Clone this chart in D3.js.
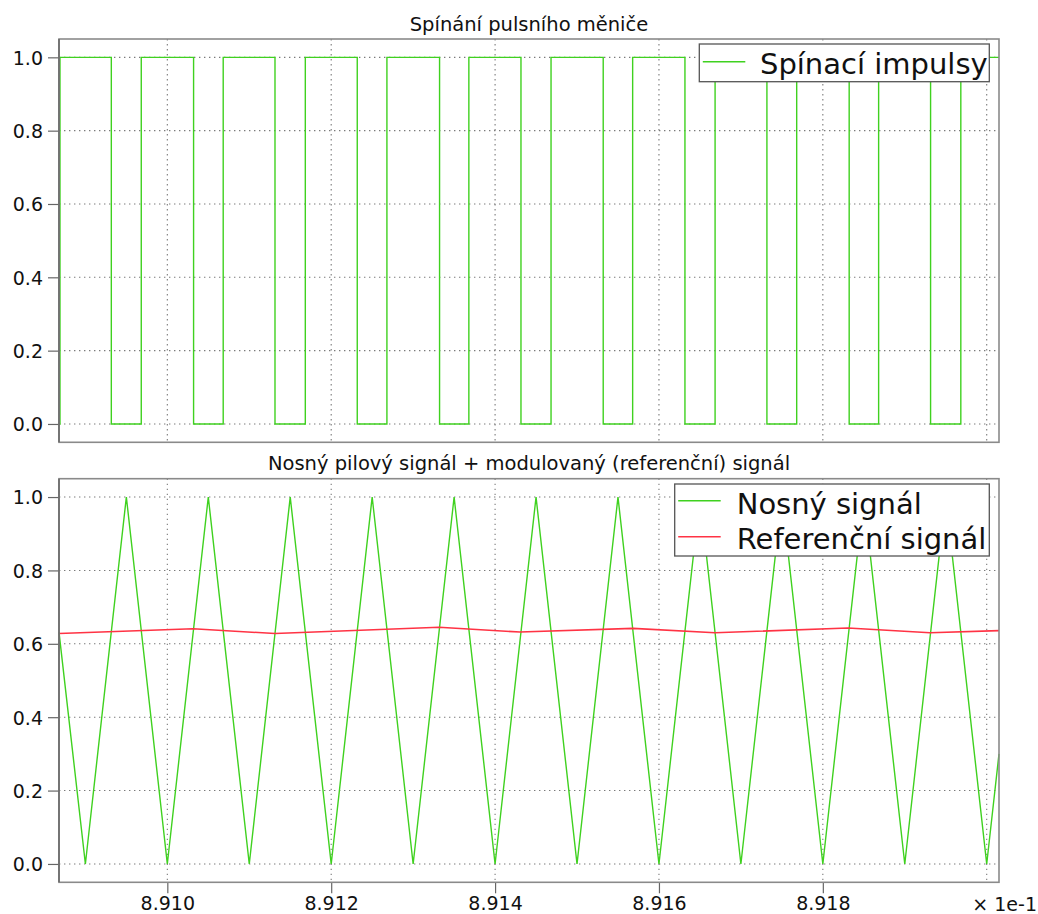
<!DOCTYPE html>
<html>
<head>
<meta charset="utf-8">
<script src="https://cdn.jsdelivr.net/npm/d3@7"></script>
<style>
  html, body { margin: 0; padding: 0; background: #fff; }
  svg { display: block; font-family: "DejaVu Sans", Verdana, sans-serif; }
</style>
</head>
<body>
<svg id="chart" width="1038" height="914"></svg>
<script>
// ---- data (time in seconds; axis shows value x10, i.e. "× 1e-1") ----
const topTitle = "Spínání pulsního měniče";
const bottomTitle = "Nosný pilový signál + modulovaný (referenční) signál";
const pulseLabel = "Spínací impulsy";
const carrierLabel = "Nosný signál";
const refLabel = "Referenční signál";
const xMultiplier = "× 1e-1";

const xGridTicks = [0.8910, 0.8912, 0.8914, 0.8916, 0.8918, 0.8920];
const xLabelTicks = [0.8910, 0.8912, 0.8914, 0.8916, 0.8918];
const yTicks = [0.0, 0.2, 0.4, 0.6, 0.8, 1.0];

const pulseT = [0.8908678, 0.8908690,
  0.89093165, 0.8909682, 0.89103205, 0.8910682, 0.8911314, 0.8911684,
  0.8912318, 0.8912680, 0.89133225, 0.8913680, 0.8914316, 0.8914683,
  0.89153197, 0.8915679, 0.89163172, 0.8916685, 0.89173176, 0.8917681,
  0.89183215, 0.8918681, 0.8919315, 0.8919684, 0.8920150];
const pulseV = [0, 1,
  0, 1, 0, 1, 0, 1,
  0, 1, 0, 1, 0, 1,
  0, 1, 0, 1, 0, 1,
  0, 1, 0, 1, 1];

const carrierT = [0.8908678,
  0.8909, 0.89095, 0.8910, 0.89105, 0.8911, 0.89115, 0.8912, 0.89125,
  0.8913, 0.89135, 0.8914, 0.89145, 0.8915, 0.89155, 0.8916, 0.89165,
  0.8917, 0.89175, 0.8918, 0.89185, 0.8919, 0.89195, 0.8920, 0.8920150];
const carrierV = [0.632,
  0, 1, 0, 1, 0, 1, 0, 1,
  0, 1, 0, 1, 0, 1, 0, 1,
  0, 1, 0, 1, 0, 1, 0, 0.30];

const refT = [0.8908678, 0.8910314, 0.8911314, 0.8913316, 0.8914304,
  0.8915683, 0.8916684, 0.8918307, 0.8919308, 0.8920150];
const refV = [0.628, 0.641, 0.628, 0.645, 0.632,
  0.642, 0.630, 0.643, 0.630, 0.636];

// ---- layout ----
const GREEN = "#3fd11f", RED = "#ff3344", FRAME = "#8a8a8a", GRID = "#7a7a7a";
const plotL = 59, plotR = 999;
const panels = [
  { top: 39, bottom: 442.3, title: topTitle, titleY: 30.5 },
  { top: 478.7, bottom: 882.3, title: bottomTitle, titleY: 469.5 }
];

const svg = d3.select("#chart");
const x = d3.scaleLinear().domain(d3.extent(carrierT)).range([plotL, plotR]);

function drawPanel(p, showXLabels) {
  const y = d3.scaleLinear().domain([-0.05, 1.05]).range([p.bottom, p.top]);
  const g = svg.append("g");
  // grid
  g.selectAll(".hg").data(yTicks).join("line")
    .attr("x1", plotL).attr("x2", plotR)
    .attr("y1", d => y(d)).attr("y2", d => y(d))
    .attr("stroke", GRID).attr("stroke-width", 1.1).attr("stroke-dasharray", "1.4,3.6");
  g.selectAll(".vg").data(xGridTicks).join("line")
    .attr("y1", p.top).attr("y2", p.bottom)
    .attr("x1", d => x(d)).attr("x2", d => x(d))
    .attr("stroke", GRID).attr("stroke-width", 1.1).attr("stroke-dasharray", "1.4,3.6");
  // y axis
  const ya = g.append("g").attr("transform", `translate(${plotL},0)`)
    .call(d3.axisLeft(y).tickValues(yTicks).tickFormat(d3.format(".1f")).tickSize(11).tickPadding(5));
  ya.select(".domain").remove();
  ya.selectAll(".tick line").attr("stroke", "#666").attr("stroke-width", 1.2);
  ya.selectAll(".tick text").attr("font-size", 19).attr("fill", "#111")
    .attr("font-family", "DejaVu Sans, Verdana, sans-serif").attr("dy", "0.36em");
  if (showXLabels) {
    const xa = g.append("g").attr("transform", `translate(0,${p.bottom})`)
      .call(d3.axisBottom(x).tickValues(xLabelTicks).tickFormat(d => (d * 10).toFixed(3)).tickSize(11).tickPadding(3));
    xa.select(".domain").remove();
    xa.selectAll(".tick line").attr("stroke", "#666").attr("stroke-width", 1.2);
    xa.selectAll(".tick text").attr("font-size", 19).attr("fill", "#111")
      .attr("font-family", "DejaVu Sans, Verdana, sans-serif");
  }
  // title
  svg.append("text").attr("x", (plotL + plotR) / 2).attr("y", p.titleY)
    .attr("text-anchor", "middle").attr("font-size", 19.5).attr("fill", "#111").text(p.title);
  return { g, y };
}

// ---- top panel ----
const P1 = drawPanel(panels[0], false);
const pulseData = pulseT.map((t, i) => [t, pulseV[i]]);
P1.g.append("path").datum(pulseData)
  .attr("fill", "none").attr("stroke", GREEN).attr("stroke-width", 1.4)
  .attr("d", d3.line().x(d => x(d[0])).y(d => P1.y(d[1])).curve(d3.curveStepAfter));

// ---- bottom panel ----
const P2 = drawPanel(panels[1], true);
const carrierData = carrierT.map((t, i) => [t, carrierV[i]]);
const refData = refT.map((t, i) => [t, refV[i]]);
P2.g.append("path").datum(carrierData)
  .attr("fill", "none").attr("stroke", GREEN).attr("stroke-width", 1.4)
  .attr("d", d3.line().x(d => x(d[0])).y(d => P2.y(d[1])));
P2.g.append("path").datum(refData)
  .attr("fill", "none").attr("stroke", RED).attr("stroke-width", 1.6)
  .attr("d", d3.line().x(d => x(d[0])).y(d => P2.y(d[1])));

// frames
panels.forEach(p => {
  svg.append("rect").attr("x", plotL).attr("y", p.top)
    .attr("width", plotR - plotL).attr("height", p.bottom - p.top)
    .attr("fill", "none").attr("stroke", FRAME).attr("stroke-width", 1.6);
  svg.append("line").attr("x1", plotL).attr("x2", plotL).attr("y1", p.top).attr("y2", p.bottom)
    .attr("stroke", "#6a6a6a").attr("stroke-width", 1.6);
});

// x scale multiplier
svg.append("text").attr("x", 1037).attr("y", 911).attr("text-anchor", "end")
  .attr("font-size", 19).attr("fill", "#111").text(xMultiplier);

// ---- legends ----
function legend(x0, y0, x1, y1, items) {
  const lg = svg.append("g");
  lg.append("rect").attr("x", x0).attr("y", y0).attr("width", x1 - x0).attr("height", y1 - y0)
    .attr("fill", "#fff").attr("stroke", "#555").attr("stroke-width", 1.3);
  items.forEach(it => {
    lg.append("line").attr("x1", x0 + 3.5).attr("x2", x0 + 46).attr("y1", it.ly).attr("y2", it.ly)
      .attr("stroke", it.color).attr("stroke-width", 1.5);
    lg.append("text").attr("x", it.tx).attr("y", it.ty).attr("font-size", 29)
      .attr("fill", "#111").text(it.label);
  });
}
legend(699.3, 44, 989.3, 81.7, [
  { color: GREEN, label: pulseLabel, ly: 61.7, tx: 760, ty: 73.5 }
]);
legend(674.7, 484, 989.3, 556, [
  { color: GREEN, label: carrierLabel, ly: 500.7, tx: 736.7, ty: 514 },
  { color: RED, label: refLabel, ly: 536.7, tx: 736.7, ty: 549 }
]);
</script>
</body>
</html>
